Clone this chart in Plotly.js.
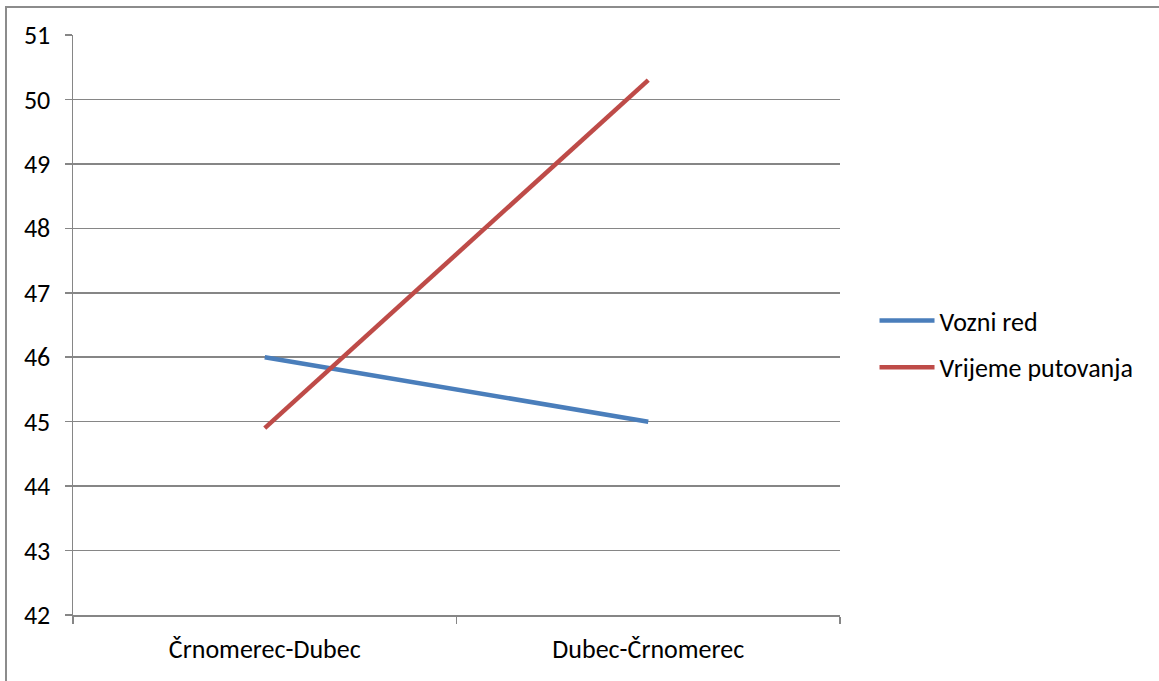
<!DOCTYPE html>
<html><head><meta charset="utf-8">
<script src="https://cdn.plot.ly/plotly-3.0.1.min.js"></script>
<style>
html,body{margin:0;padding:0;background:#fff;overflow:hidden;}
#frame{position:absolute;left:5px;top:6px;width:1300px;height:800px;border-left:2px solid #8c8c8c;border-top:2px solid #8c8c8c;}
#chart{position:absolute;left:0;top:0;width:1159px;height:681px;}
</style></head>
<body>
<div id="frame"></div>
<div id="chart"></div>
<script>
const categories = ["Črnomerec-Dubec", "Dubec-Črnomerec"];
const vozniRed = [46, 45];
const vrijemePutovanja = [44.9, 50.3];
const seriesNames = ["Vozni red", "Vrijeme putovanja"];

const font = {family: "Carlito, Calibri, Lato, sans-serif", size: 26, color: "#000"};

const traces = [
  {x: categories, y: vozniRed, name: seriesNames[0], type: "scatter", mode: "lines",
   line: {color: "#4a7ebb", width: 4.5}, legendgroup: "a"},
  {x: categories, y: vrijemePutovanja, name: seriesNames[1], type: "scatter", mode: "lines",
   line: {color: "#be4b48", width: 4.5}, legendgroup: "b"}
];

const layout = {
  width: 1159, height: 681,
  margin: {l: 73, r: 319, t: 35, b: 66},
  paper_bgcolor: "rgba(0,0,0,0)", plot_bgcolor: "rgba(0,0,0,0)",
  font: font,
  showlegend: true,
  legend: {x: 1.045, y: 0.467, xanchor: "left", yanchor: "middle", font: font,
           itemwidth: 55, tracegroupgap: 10, traceorder: "grouped", bgcolor: "rgba(0,0,0,0)"},
  xaxis: {type: "category", range: [-0.5, 1.5], showgrid: false, showline: true,
          linecolor: "#868686", linewidth: 1.5, ticks: "outside", tickson: "boundaries",
          ticklen: 7, tickcolor: "#868686", tickwidth: 1.5, tickfont: font, zeroline: false,
          ticklabelstandoff: 10},
  yaxis: {range: [42, 51], dtick: 1, tick0: 42, showgrid: true, gridcolor: "#868686", gridwidth: 1.5,
          showline: true, linecolor: "#868686", linewidth: 1.5, ticks: "outside", ticklen: 7,
          tickcolor: "#868686", tickwidth: 1.5, tickfont: font, zeroline: false, ticklabelstandoff: 9}
};

Plotly.newPlot("chart", traces, layout, {displayModeBar: false, staticPlot: true});
</script>
</body></html>
